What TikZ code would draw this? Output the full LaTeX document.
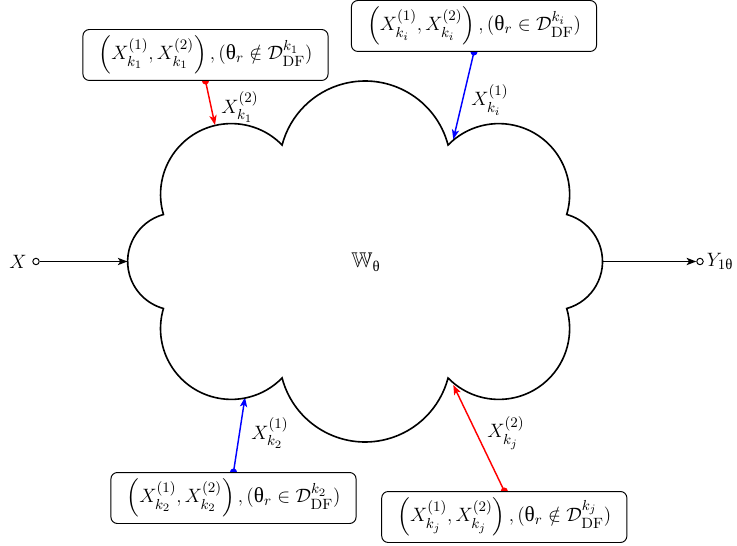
\documentclass[tikz,border=0pt]{standalone}
\usepackage{amsmath,amssymb}
\usepackage{fontspec}
\newfontfamily\grk{Liberation Serif}
\newcommand\uth{\text{\grk θ}}
\usetikzlibrary{arrows.meta,backgrounds}
\begin{document}
\begin{tikzpicture}[x=0.62pt,y=0.62pt,
  every node/.style={font=\fontsize{13.2}{15.5}\selectfont},
  box/.style={draw, rounded corners=4pt, fill=white, minimum width=152pt, minimum height=31.6pt, inner sep=1pt, line width=0.6pt},
  io/.style={circle, draw, fill=white, inner sep=0pt, minimum size=4pt, line width=0.6pt},
  arr/.style={line width=0.9pt, -{Stealth[length=6pt,width=4.5pt,inset=1.5pt]}},
  dotr/.style={radius=2.2pt},
  cloudline/.style={line width=1pt}]
\useasboundingbox (0,0) rectangle (737,-546);
% cloud
\begin{scope}[shift={(365,-261.5)}]
\draw[cloudline] (201.7,-47) arc[start angle=-74.6,end angle=74.6,radius=48.75]
 arc[start angle=-16.5,end angle=135.8,radius=70.8]
 arc[start angle=14.7,end angle=165.3,radius=85.8]
 arc[start angle=44.2,end angle=196.5,radius=70.8]
 arc[start angle=105.4,end angle=254.6,radius=48.75]
 arc[start angle=163.5,end angle=315.8,radius=70.8]
 arc[start angle=194.7,end angle=345.3,radius=85.8]
 arc[start angle=224.2,end angle=376.5,radius=70.8] -- cycle;
\coordinate (cw) at (-237.5,0);
\coordinate (ce) at (237.5,0);
\end{scope}
\node (W) at (366,-262) {$\mathbb{W}_{\uth}$};
% input / output
\node[io] (xin) at (36,-261.5) {};
\node (xl) at (18,-261.5) {$X$};
\node[io] (yout) at (700,-261.5) {};
\node (yl) at (720,-261.5) {$Y_{1\uth}$};
\draw[arr] (xin) -- (cw);
\draw[arr] (ce) -- (yout);
% boxes
\node[box] (b1) at (205.5,-55) {$\left(X_{k_1}^{(1)},X_{k_1}^{(2)}\right),(\uth_r\notin\mathcal{D}_{\mathrm{DF}}^{k_1})$};
\node[box] (b2) at (474,-26) {$\left(X_{k_i}^{(1)},X_{k_i}^{(2)}\right),(\uth_r\in\mathcal{D}_{\mathrm{DF}}^{k_i})$};
\node[box] (b3) at (233.5,-498) {$\left(X_{k_2}^{(1)},X_{k_2}^{(2)}\right),(\uth_r\in\mathcal{D}_{\mathrm{DF}}^{k_2})$};
\node[box] (b4) at (504.3,-517) {$\left(X_{k_j}^{(1)},X_{k_j}^{(2)}\right),(\uth_r\notin\mathcal{D}_{\mathrm{DF}}^{k_j})$};
% arrow targets on the cloud
\coordinate (t1) at (215,-125);
\coordinate (t2) at (453.3,-139.3);
\coordinate (t3) at (245,-397.3);
\coordinate (t4) at (453.3,-385);
\begin{scope}[on background layer]
\draw[arr,red] (b1.south) -- (t1);
\fill[red] (b1.south) circle[dotr];
\draw[arr,blue] (b2.south) -- (t2);
\fill[blue] (b2.south) circle[dotr];
\draw[arr,blue] (b3.north) -- (t3);
\fill[blue] (b3.north) circle[dotr];
\draw[arr,red] (b4.north) -- (t4);
\fill[red] (b4.north) circle[dotr];
\end{scope}
% arrow labels
\node (l1) at (240,-107) {$X_{k_1}^{(2)}$};
\node (l2) at (490,-100) {$X_{k_i}^{(1)}$};
\node (l3) at (270,-433) {$X_{k_2}^{(1)}$};
\node (l4) at (506,-433) {$X_{k_j}^{(2)}$};
\end{tikzpicture}
\end{document}
